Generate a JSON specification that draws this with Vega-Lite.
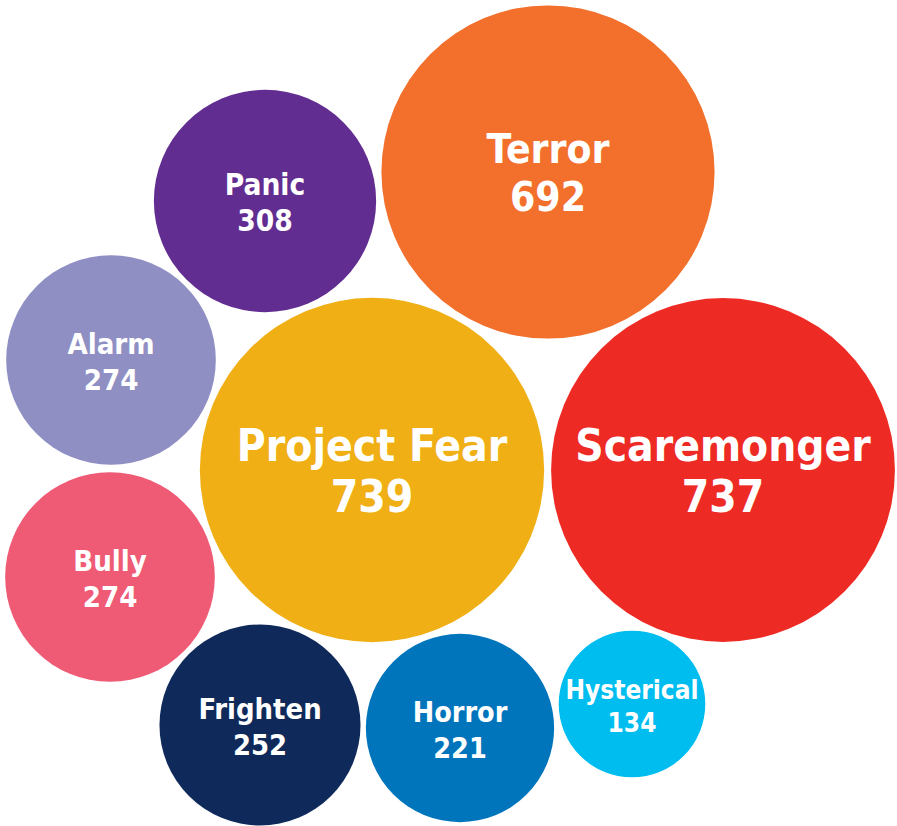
{
  "$schema": "https://vega.github.io/schema/vega-lite/v6.json",
  "width": 897,
  "height": 826,
  "padding": 0,
  "autosize": {"type": "none"},
  "background": "#ffffff",
  "config": {"view": {"stroke": null}},
  "data": {
    "values": [
      {"name": "Terror", "value": 692, "x": 548, "y": 172},
      {"name": "Panic", "value": 308, "x": 265, "y": 201},
      {"name": "Alarm", "value": 274, "x": 111, "y": 360},
      {"name": "Project Fear", "value": 739, "x": 372, "y": 470},
      {"name": "Scaremonger", "value": 737, "x": 723, "y": 470},
      {"name": "Bully", "value": 274, "x": 110, "y": 577},
      {"name": "Frighten", "value": 252, "x": 260, "y": 725},
      {"name": "Horror", "value": 221, "x": 460, "y": 728},
      {"name": "Hysterical", "value": 134, "x": 632, "y": 704}
    ]
  },
  "encoding": {
    "x": {"field": "x", "type": "quantitative", "scale": {"domain": [0, 897]}, "axis": null},
    "y": {"field": "y", "type": "quantitative", "scale": {"domain": [0, 826], "reverse": true}, "axis": null}
  },
  "layer": [
    {
      "mark": {"type": "circle", "opacity": 1},
      "encoding": {
        "size": {"field": "value", "type": "quantitative", "scale": {"type": "linear", "domain": [0, 1000], "range": [0, 160400]}, "legend": null},
        "color": {
          "field": "name", "type": "nominal", "legend": null,
          "scale": {
            "domain": ["Terror", "Panic", "Alarm", "Project Fear", "Scaremonger", "Bully", "Frighten", "Horror", "Hysterical"],
            "range": ["#F26F2C", "#622D91", "#8F8FC4", "#EFAF15", "#EE2A24", "#EF5A75", "#0F2A5A", "#0075BC", "#00BDEF"]
          }
        }
      }
    },
    {
      "layer": [
        {
          "mark": {"type": "text", "baseline": "bottom", "align": "center", "color": "#ffffff", "font": "DejaVu Sans Condensed, sans-serif", "fontWeight": "bold", "dy": 0},
          "encoding": {
            "text": {"field": "name", "type": "nominal"}
          }
        },
        {
          "mark": {"type": "text", "baseline": "top", "align": "center", "color": "#ffffff", "font": "DejaVu Sans Condensed, sans-serif", "fontWeight": "bold", "dy": 7},
          "encoding": {
            "text": {"field": "value", "type": "quantitative", "format": "d"}
          }
        }
      ],
      "encoding": {
        "size": {"field": "value", "type": "quantitative", "scale": {"type": "linear", "domain": [134, 221, 308, 692, 739], "range": [26, 28.5, 29.6, 40.5, 44]}, "legend": null}
      }
    }
  ],
  "resolve": {"scale": {"size": "independent"}}
}
